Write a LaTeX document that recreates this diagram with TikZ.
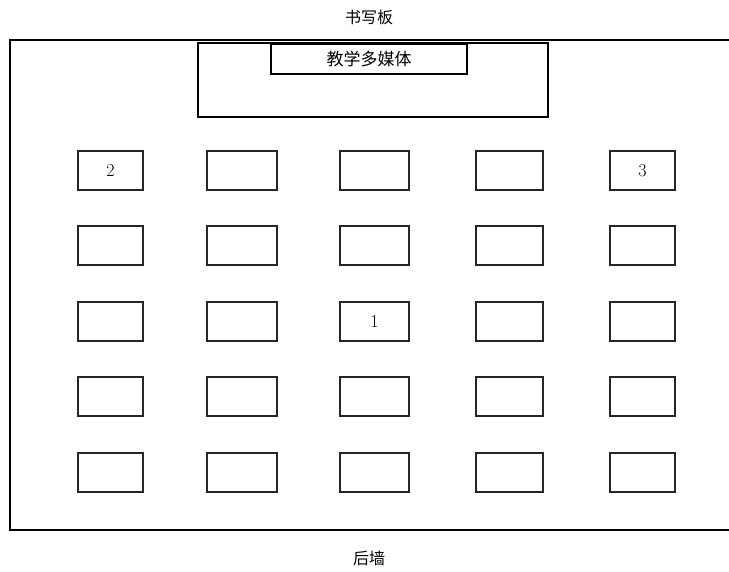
\documentclass[tikz,border=0pt]{standalone}
\usepackage{fontspec}
\newfontfamily\cjk{Noto Sans CJK SC}
\begin{document}
\begin{tikzpicture}[x=1pt,y=-1pt,
  wall/.style={draw=black,line width=1.2pt},
  desk/.style={draw=black!85,line width=1.1pt,minimum width=67pt,minimum height=39pt,inner sep=0pt},
  num/.style={font=\fontsize{18}{18}\selectfont,inner sep=0pt},
  lbl/.style={font=\cjk\fontsize{16}{16}\selectfont,inner sep=0pt}]
\useasboundingbox (0,0) rectangle (729,572);
\draw[wall] (731,40) -- (10,40) -- (10,530) -- (731,530);
\node[lbl] (board) at (369,17) {书写板};
\node[lbl] (back) at (369,558) {后墙};
\node[draw=black,line width=1.1pt,minimum width=350pt,minimum height=74pt,inner sep=0pt] (platform) at (373,80) {};
\node[draw=black,line width=1.1pt,minimum width=196pt,minimum height=30pt,inner sep=0pt,font=\cjk\fontsize{17}{17}\selectfont] (media) at (369,59) {教学多媒体};
\foreach \c/\x/\w in {1/110.5/65,2/242/70,3/374.5/69,4/509.5/67,5/642.5/65}{
  \foreach \r/\y in {1/170.5,2/245.5,3/321.5,4/396.5,5/472.5}{
    \node[desk,minimum width=\w pt] (d\r\c) at (\x,\y) {};
  }
}
\node[num] (n2) at (d11) {2};
\node[num] (n3) at (d15) {3};
\node[num] (n1) at (d33) {1};
\end{tikzpicture}
\end{document}
